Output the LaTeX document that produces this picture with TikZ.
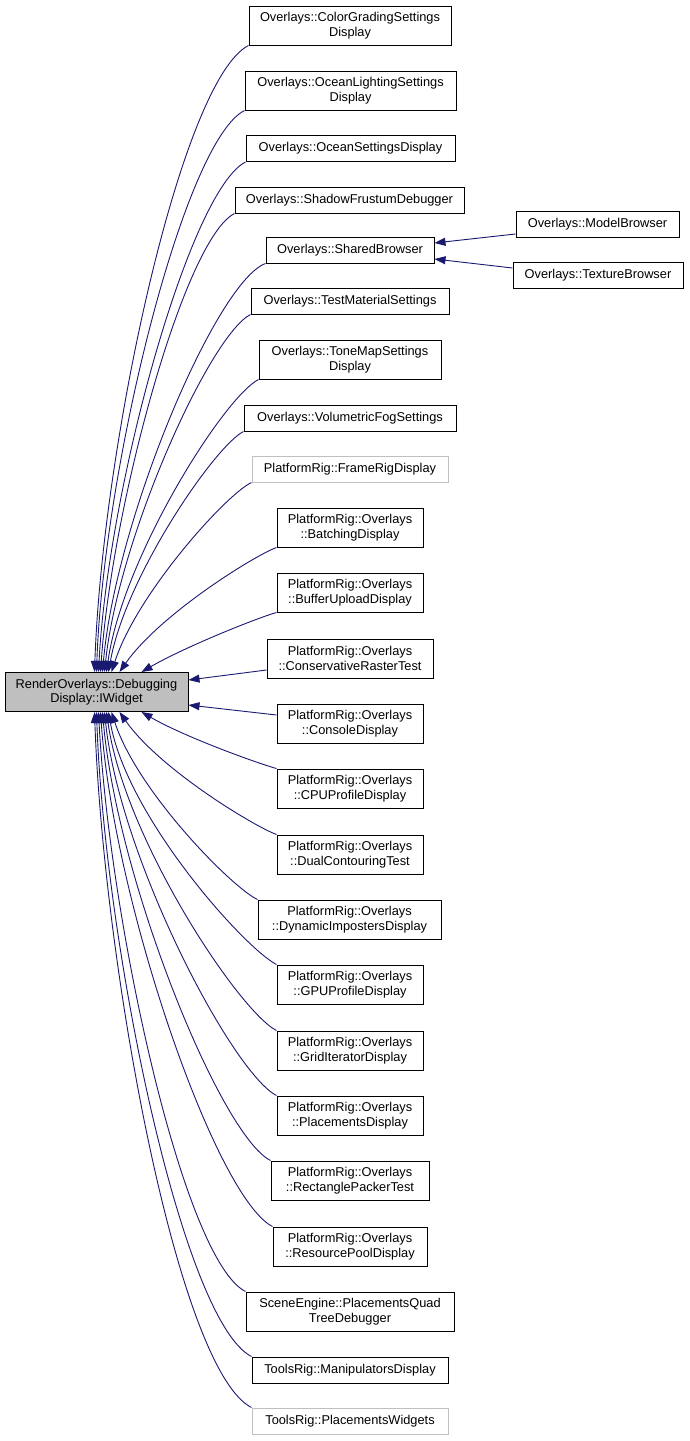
\documentclass[tikz,border=0pt]{standalone}
\usepackage{fontspec}
\setmainfont{Liberation Sans}
\usetikzlibrary{
	arrows.meta,
	calc,
}
\definecolor{edgeblue}{HTML}{191970}
\definecolor{boxgray}{HTML}{BFBFBF}

\begin{document}
\begin{tikzpicture}[
                    x=1pt, y=1pt,
                    cls/.style={draw=black, line width=1pt, fill=white, align=center,
                        inner sep=1pt, minimum height=26,
                        font=\fontsize{12.8}{14.6}\selectfont},
                    twoline/.style={cls, minimum height=39},
                    extcls/.style={cls, draw=boxgray},
                    rootcls/.style={twoline, fill=boxgray},
                    inh/.style={draw=edgeblue, line width=0.9pt,
                        {Triangle[length=11pt,width=8pt]}-,
                        out looseness=0.9, in looseness=0.3},
                ]
\useasboundingbox (0,0) rectangle (689,-1441);

\node[rootcls, minimum width=183] (root) at (96.5,-692) {RenderOverlays::Debugging\\Display::IWidget};

\node[twoline, minimum width=202] (colorgrading) at (350,-25.5) {Overlays::ColorGradingSettings\\Display};
\node[twoline, minimum width=211] (oceanlighting) at (350.5,-90.5) {Overlays::OceanLightingSettings\\Display};
\node[cls, minimum width=209] (oceansettings) at (350.5,-148.5) {Overlays::OceanSettingsDisplay};
\node[cls, minimum width=229] (shadowfrustum) at (349.5,-200) {Overlays::ShadowFrustumDebugger};
\node[cls, minimum width=168] (sharedbrowser) at (350,-250) {Overlays::SharedBrowser};
\node[cls, minimum width=198] (testmaterial) at (350,-301) {Overlays::TestMaterialSettings};
\node[twoline, minimum width=182] (tonemap) at (350,-359.5) {Overlays::ToneMapSettings\\Display};
\node[cls, minimum width=212] (volumetricfog) at (350,-418) {Overlays::VolumetricFogSettings};
\node[extcls, minimum width=196] (framerig) at (350,-469) {PlatformRig::FrameRigDisplay};
\node[twoline, minimum width=146] (batching) at (350,-527.5) {PlatformRig::Overlays\\::BatchingDisplay};
\node[twoline, minimum width=146] (bufferupload) at (350,-592.5) {PlatformRig::Overlays\\::BufferUploadDisplay};
\node[twoline, minimum width=166] (conservative) at (350,-658.5) {PlatformRig::Overlays\\::ConservativeRasterTest};
\node[twoline, minimum width=146] (console) at (350,-723.5) {PlatformRig::Overlays\\::ConsoleDisplay};
\node[twoline, minimum width=146] (cpuprofile) at (350,-788.5) {PlatformRig::Overlays\\::CPUProfileDisplay};
\node[twoline, minimum width=146] (dualcontouring) at (350,-854.5) {PlatformRig::Overlays\\::DualContouringTest};
\node[twoline, minimum width=183] (dynamicimposters) at (349.5,-919.5) {PlatformRig::Overlays\\::DynamicImpostersDisplay};
\node[twoline, minimum width=146] (gpuprofile) at (350,-984.5) {PlatformRig::Overlays\\::GPUProfileDisplay};
\node[twoline, minimum width=146] (griditerator) at (350,-1050.5) {PlatformRig::Overlays\\::GridIteratorDisplay};
\node[twoline, minimum width=146] (placements) at (350,-1115.5) {PlatformRig::Overlays\\::PlacementsDisplay};
\node[twoline, minimum width=158] (rectanglepacker) at (350,-1180.5) {PlatformRig::Overlays\\::RectanglePackerTest};
\node[twoline, minimum width=154] (resourcepool) at (350,-1246.5) {PlatformRig::Overlays\\::ResourcePoolDisplay};
\node[twoline, minimum width=208] (quadtree) at (350,-1311.5) {SceneEngine::PlacementsQuad\\TreeDebugger};
\node[cls, minimum width=196] (manipulators) at (350,-1370) {ToolsRig::ManipulatorsDisplay};
\node[extcls, minimum width=196] (placementswidgets) at (350,-1421) {ToolsRig::PlacementsWidgets};

\node[cls, minimum width=163] (modelbrowser) at (597.5,-224) {Overlays::ModelBrowser};
\node[cls, minimum width=170] (texturebrowser) at (598,-275) {Overlays::TextureBrowser};

\foreach \c/\x/\o/\i in {colorgrading/90/207/88, oceanlighting/92/207/88,
        oceansettings/94/207/87, shadowfrustum/96/207/86, sharedbrowser/98/200/85,
        testmaterial/100/207/84, tonemap/102/207/82, volumetricfog/104/207/80,
        framerig/107/205/72, batching/115/200/55, bufferupload/137/195/30}
    \draw[inh] ([xshift=\x]root.north west) to[in=\o, out=\i] (\c.south west);

\foreach \c/\x/\o/\i in {placementswidgets/90/153/272, manipulators/92/153/272,
        quadtree/94/153/273, resourcepool/96/153/274, rectanglepacker/98/153/275,
        placements/100/153/276, griditerator/102/153/278, gpuprofile/104/153/280,
        dynamicimposters/107/155/288, dualcontouring/115/160/305, cpuprofile/137/165/330}
    \draw[inh] ([xshift=\x]root.south west) to[in=\o, out=\i] (\c.north west);

\draw[inh] ([yshift=12]root.east) -- ([yshift=-11.5]conservative.west);
\draw[inh] ([yshift=-13]root.east) -- ([yshift=8.5]console.west);

\draw[inh] ([yshift=7]sharedbrowser.east) -- ([yshift=-10]modelbrowser.west);
\draw[inh] ([yshift=-9]sharedbrowser.east) -- ([yshift=7]texturebrowser.west);
\end{tikzpicture}
\end{document}
